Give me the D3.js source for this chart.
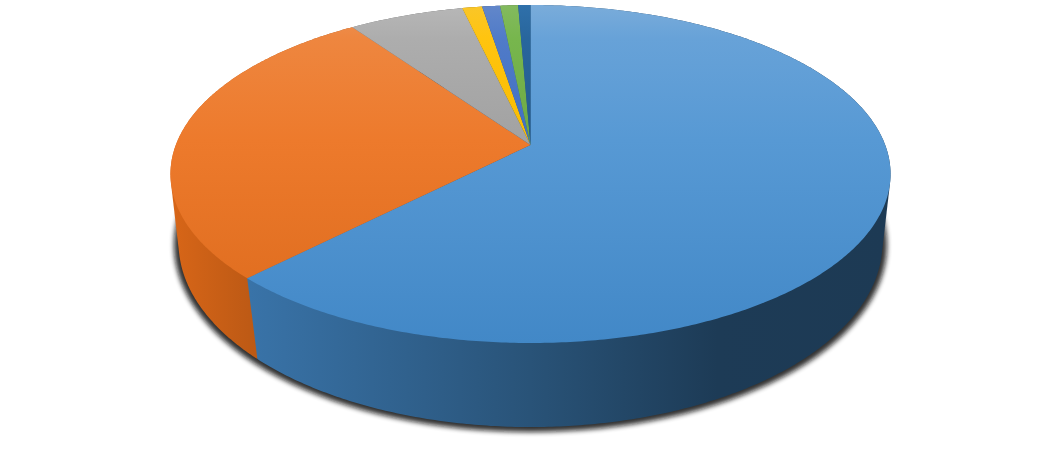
<!DOCTYPE html>
<html><head><meta charset="utf-8">
<script src="https://cdn.jsdelivr.net/npm/d3@7"></script>
<style>html,body{margin:0;padding:0;background:#fff}svg{display:block}</style>
</head><body><div id="c"></div>
<script>
// Slice names are not shown in the reference; values are percent shares.
const categories = ["A","B","C","D","E","F","G"];
const values = [62.3, 27.9, 6.1, 1.05, 0.95, 0.95, 0.65];

const W = 1061, H = 450;
const palette = ["#5b9bd5","#ed7d31","#a5a5a5","#ffc000","#4472c4","#70ad47","#255e91"];
const wallSat = [0.83,0.95,1,0.9,0.85,0.85,0.85];

const svg = d3.select("#c").append("svg").attr("width",W).attr("height",H);
const defs = svg.append("defs");

// Perspective map of the unit disc: top face and bottom rim
const makeMap = (cx,y0,k,Y,c)=>(a)=>{
  const u=Math.sin(a), v=-Math.cos(a), d=1+c*v;
  return [cx+k*u/d, y0+Y*v/d];
};
const topMap = makeMap(530.5,145,354.7,164,-0.1716);
const botMap = makeMap(530.5,215.4,347.9,179.9,-0.15);
const apex = [530.5,145];

const pie = d3.pie().sort(null).value(d=>d)(values);
const line = d3.line();
const arcPts = (m,a0,a1)=>{
  const n=Math.max(4,Math.ceil((a1-a0)/0.01));
  return d3.range(n+1).map(i=>m(a0+(a1-a0)*i/n));
};

// Gradients: move lightness, ease saturation as it darkens
const lit = (hex,f,add=0,sf=1)=>{
  const h=d3.hsl(hex);
  h.l=h.l*f+add;
  h.s=h.s*sf;
  return h.formatHex();
};
const mkGrad=(id,x1,y1,x2,y2,stops)=>{
  const g=defs.append("linearGradient").attr("id",id).attr("gradientUnits","userSpaceOnUse")
    .attr("x1",x1).attr("y1",y1).attr("x2",x2).attr("y2",y2);
  stops.forEach(([o,c])=>g.append("stop").attr("offset",o).attr("stop-color",c));
};
palette.forEach((c,i)=>{
  const s=wallSat[i];
  mkGrad("top"+i,0,5,0,343,[[0,lit(c,1,0.07,0.95)],[0.1,lit(c,1,0.03)],[0.4,lit(c,1,-0.01)],[1,lit(c,1,-0.075,0.92)]]);
  mkGrad("wall"+i,170,0,890,0,[[0,lit(c,0.84,0,s)],[0.11,lit(c,0.74,0,s)],[0.5,lit(c,0.53,0,s)],[0.76,lit(c,0.38,0,s)],[1,lit(c,0.37,0,s)]]);
});

// Shadow
const blur = defs.append("filter").attr("id","sh").attr("x","-10%").attr("y","-10%").attr("width","120%").attr("height","120%");
blur.append("feGaussianBlur").attr("stdDeviation",2.4);
svg.append("ellipse").attr("cx",530.5).attr("cy",245).attr("rx",356.5).attr("ry",187)
  .attr("fill","#111").attr("opacity",0.85).attr("filter","url(#sh)");

// Walls: each is the hull of its top and bottom rim, so the silhouette runs straight
// between the two rims; drawn last slice first so the first slice's edge stays sharp
svg.append("g").selectAll("path").data(pie.slice().reverse()).join("path")
  .attr("d",d=>line(d3.polygonHull(arcPts(topMap,d.startAngle,d.endAngle).concat(arcPts(botMap,d.startAngle,d.endAngle))))+"Z")
  .attr("fill",d=>`url(#wall${d.index})`);

// Top face
svg.append("g").selectAll("path").data(pie).join("path")
  .attr("d",d=>line([apex].concat(arcPts(topMap,d.startAngle,d.endAngle)))+"Z")
  .attr("fill",d=>`url(#top${d.index})`);
</script></body></html>
